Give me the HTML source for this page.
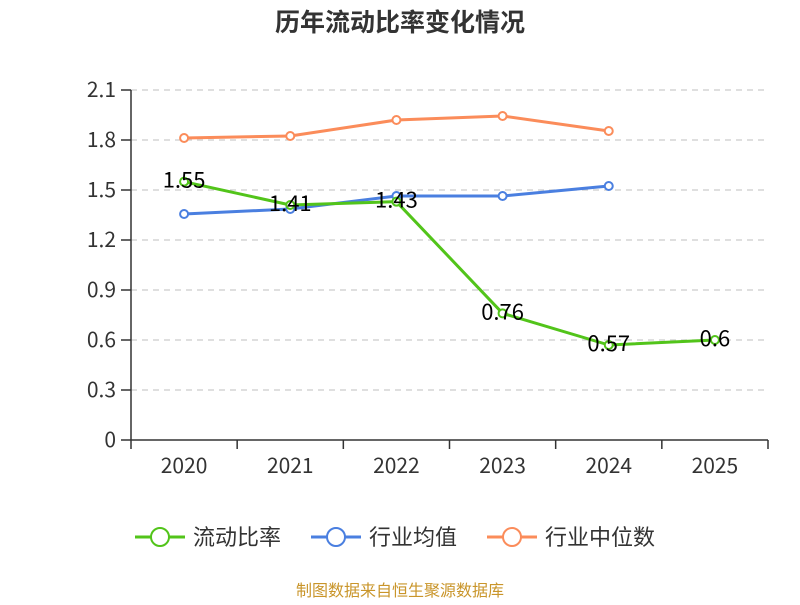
<!DOCTYPE html>
<html><head><meta charset="utf-8"><style>
body{margin:0;background:#fff;}
svg text{font-family:"Noto Sans CJK SC","Liberation Sans",sans-serif;}
</style></head><body>
<svg id="c" width="800" height="600" xmlns="http://www.w3.org/2000/svg">
<text x="400" y="31" text-anchor="middle" font-size="25" font-weight="bold" fill="#333">历年流动比率变化情况</text>
<g id="grid"></g>
<g id="axes"></g>
<g id="series"></g>
<g id="legend"></g>
<text x="400" y="596" text-anchor="middle" font-size="16" fill="#c9952a">制图数据来自恒生聚源数据库</text>
</svg>
<script>
const categories=['2020','2021','2022','2023','2024','2025'];
const ratioValues=[1.55,1.41,1.43,0.76,0.57,0.6];
const industryAvg=[1.356,1.386,1.464,1.464,1.524];
const industryMedian=[1.812,1.824,1.92,1.944,1.854];
const yTicks=[0,0.3,0.6,0.9,1.2,1.5,1.8,2.1];
const ratioLabels=['1.55','1.41','1.43','0.76','0.57','0.6'];

const NS='http://www.w3.org/2000/svg';
const X0=131,X1=768,Y0=440,Y1=90,YMAX=2.1;
const bw=(X1-X0)/categories.length;
const xs=i=>X0+bw*(i+0.5);
const ys=v=>Y0-(v/YMAX)*(Y0-Y1);
function mk(tag,attrs,parent){const e=document.createElementNS(NS,tag);for(const k in attrs)e.setAttribute(k,attrs[k]);parent.appendChild(e);return e;}
const grid=document.getElementById('grid'),axes=document.getElementById('axes'),series=document.getElementById('series'),legend=document.getElementById('legend');
yTicks.forEach(t=>{
  const y=ys(t);
  if(t>0){const l=mk('line',{x1:X0,x2:X1,y1:y,y2:y,stroke:'#ccc','stroke-dasharray':'6,5','stroke-width':1.3},grid);
  
  }
  const tk=mk('line',{x1:X0-10,x2:X0,y1:y,y2:y,stroke:'#333','stroke-width':1.5},axes);
  
  
  const tx=mk('text',{x:X0-15,y:y+7,'text-anchor':'end','font-size':21,fill:'#333'},axes);
  tx.textContent=String(t);
  
  
});
const ya=mk('line',{x1:X0,x2:X0,y1:Y1,y2:Y0,stroke:'#333','stroke-width':1.5},axes);


const xa=mk('line',{x1:X0,x2:X1,y1:Y0,y2:Y0,stroke:'#333','stroke-width':1.5},axes);


for(let i=0;i<=categories.length;i++){
  const x=X0+bw*i;
  const t=mk('line',{x1:x,x2:x,y1:Y0,y2:Y0+9,stroke:'#333','stroke-width':1.5},axes);
  
  
}
categories.forEach((c,i)=>{
  const t=mk('text',{x:xs(i),y:473,'text-anchor':'middle','font-size':21,fill:'#333'},axes);
  t.textContent=c;
  
  
});
function drawSeries(vals,color,name){
  const g=mk('g',{},series);
  
  
  const p=mk('polyline',{points:vals.map((v,i)=>xs(i)+','+ys(v)).join(' '),fill:'none',stroke:color,'stroke-width':3,'stroke-linejoin':'round'},g);
  
  
  vals.forEach((v,i)=>{
    const c=mk('circle',{cx:xs(i),cy:ys(v),r:4,fill:'#fff',stroke:color,'stroke-width':2},g);
    
    
  });
}
drawSeries(industryMedian,'#fb8c5a','industry-median');
drawSeries(industryAvg,'#4a7fe0','industry-average');
drawSeries(ratioValues,'#52c41a','current-ratio');
ratioValues.forEach((v,i)=>{
  const t=mk('text',{x:xs(i),y:ys(v)+6,'text-anchor':'middle','font-size':22,fill:'#000'},series);
  t.textContent=ratioLabels[i];
  
  
});
const leg=[['流动比率','#52c41a',135],['行业均值','#4a7fe0',311],['行业中位数','#fb8c5a',487]];
leg.forEach(([n,c,x])=>{
  const g=mk('g',{},legend);
  
  
  mk('line',{x1:x,x2:x+50,y1:537,y2:537,stroke:c,'stroke-width':3},g);
  mk('circle',{cx:x+25,cy:537,r:9,fill:'#fff',stroke:c,'stroke-width':2},g);
  const t=mk('text',{x:x+58,y:545,'font-size':22,fill:'#333'},g);
  t.textContent=n;
});
</script>
</body></html>
